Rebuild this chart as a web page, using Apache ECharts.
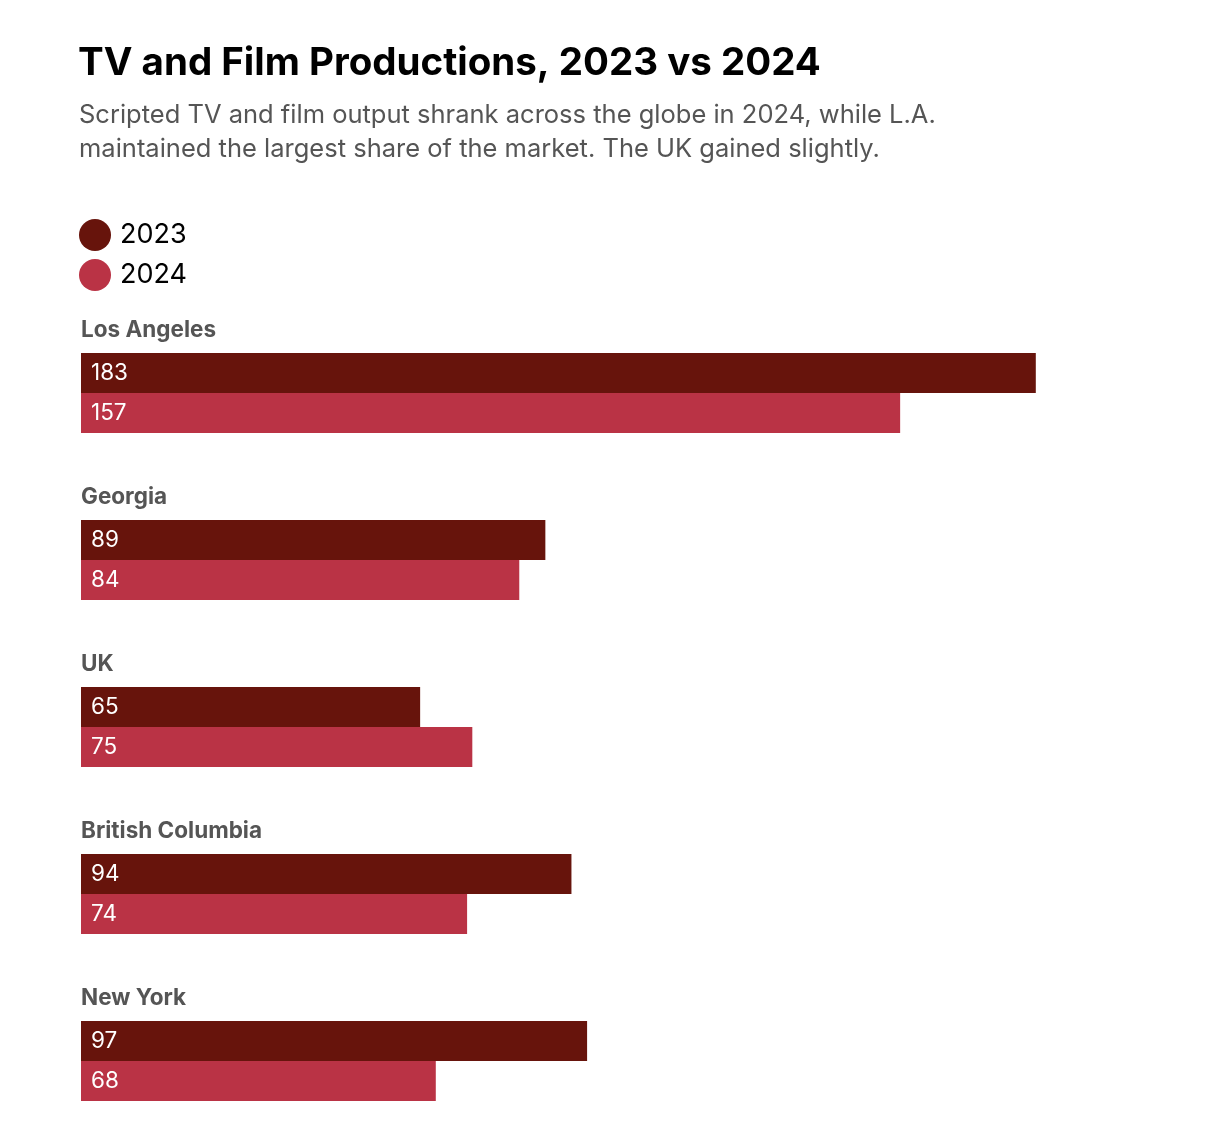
<!DOCTYPE html>
<html>
<head>
<meta charset="utf-8">
<script src="https://cdn.jsdelivr.net/npm/echarts@6/dist/echarts.min.js"></script>
<style>
html,body{margin:0;padding:0;background:#fff;}
#chart{width:1208px;height:1130px;}
</style>
</head>
<body>
<div id="chart"></div>
<script>
const categories = ['Los Angeles', 'Georgia', 'UK', 'British Columbia', 'New York'];
const values2023 = [183, 89, 65, 94, 97];
const values2024 = [157, 84, 75, 74, 68];
const seriesNames = ['2023', '2024'];

const FONT = 'Inter, "Noto Sans", sans-serif';
const chart = echarts.init(document.getElementById('chart'));
const labelStyle = {
  show: true, position: 'insideLeft', distance: 10,
  color: '#fff', fontSize: 22.5, fontFamily: FONT, padding: [2, 0, 0, 0]
};
chart.setOption({
  backgroundColor: '#fff',
  animation: false,
  title: [
    { text: 'TV and Film Productions, 2023 vs 2024', left: 73, top: 39,
      textStyle: { fontFamily: FONT, fontSize: 38.5, fontWeight: 'bold', color: '#000' } },
    { text: 'Scripted TV and film output shrank across the globe in 2024, while L.A.\nmaintained the largest share of the market. The UK gained slightly.',
      left: 74, top: 93,
      textStyle: { fontFamily: FONT, fontSize: 25.5, fontWeight: 'normal', color: '#555', lineHeight: 34 } }
  ],
  legend: {
    orient: 'vertical', left: 74, top: 214, icon: 'circle',
    itemWidth: 32, itemHeight: 32, itemGap: 8,
    textStyle: { fontFamily: FONT, fontSize: 27, color: '#000', padding: [4, 0, 0, 4] },
    data: seriesNames
  },
  grid: { left: 81, top: 393, width: 1043.5, height: 668, containLabel: false },
  xAxis: { type: 'value', min: 0, max: 200, show: false },
  yAxis: {
    type: 'category', data: categories, inverse: true, boundaryGap: false,
    axisLine: { show: false }, axisTick: { show: false }, splitLine: { show: false },
    axisLabel: {
      inside: true, align: 'left', margin: 0, verticalAlign: 'middle',
      formatter: function (v) { return '{n|' + v + '}\n{g| }'; },
      rich: {
        n: { fontFamily: FONT, fontSize: 22.5, fontWeight: 'bold', color: '#555', lineHeight: 26 },
        g: { fontSize: 1, lineHeight: 126 }
      }
    }
  },
  series: [
    { name: seriesNames[0], type: 'bar', data: values2023, barWidth: 40, barGap: '0%',
      itemStyle: { color: '#67140c' }, label: labelStyle },
    { name: seriesNames[1], type: 'bar', data: values2024, barWidth: 40, barGap: '0%',
      itemStyle: { color: '#ba3345' }, label: labelStyle }
  ]
});
</script>
</body>
</html>
